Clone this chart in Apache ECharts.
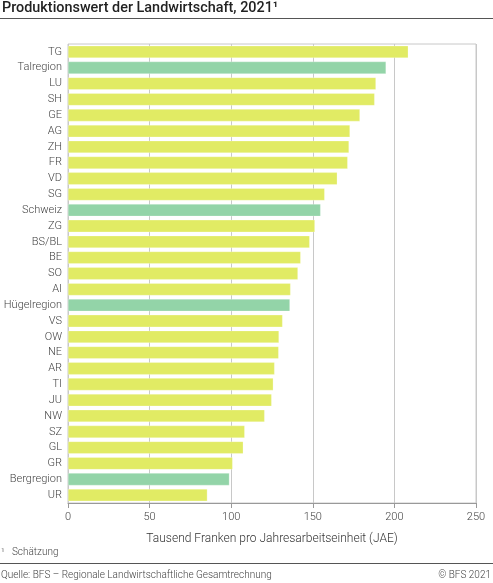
<!DOCTYPE html>
<html>
<head>
<meta charset="utf-8">
<script src="https://cdn.jsdelivr.net/npm/echarts@6/dist/echarts.min.js"></script>
<style>
  html, body { margin: 0; padding: 0; background: #fff; }
  #chart { width: 493px; height: 583px; }
</style>
</head>
<body>
<div id="chart"></div>
<script>
// regions and cantons, top to bottom
var categories = ['TG', 'Talregion', 'LU', 'SH', 'GE', 'AG', 'ZH', 'FR', 'VD', 'SG', 'Schweiz',
    'ZG', 'BS/BL', 'BE', 'SO', 'AI', 'Hügelregion', 'VS', 'OW', 'NE', 'AR', 'TI', 'JU', 'NW',
    'SZ', 'GL', 'GR', 'Bergregion', 'UR'];
var values = [208.5, 194.9, 188.7, 187.9, 178.9, 172.8, 172.2, 171.4, 165.0, 157.3, 154.8,
    151.3, 148.1, 142.6, 140.9, 136.4, 136.0, 131.5, 129.3, 129.1, 126.6, 125.8, 124.8, 120.5,
    108.3, 107.4, 100.9, 98.9, 85.4];
// which bars are aggregate regions (green)
var regions = ['Talregion', 'Schweiz', 'Hügelregion', 'Bergregion'];
var xTicks = [0, 50, 100, 150, 200, 250];

var myChart = echarts.init(document.getElementById('chart'));

var barData = values.map(function(v, i) {
    var isRegion = regions.indexOf(categories[i]) >= 0;
    return {
        value: v,
        itemStyle: { color: isRegion ? '#93d4a8' : '#e1eb64' }
    };
});

var option = {
    animation: false,
    textStyle: { fontFamily: 'Roboto' },
    grid: {
        left: 68,
        right: 17,
        top: 44,
        bottom: 80,
        show: true,
        borderColor: '#c8c8c8',
        borderWidth: 1
    },
    xAxis: {
        type: 'value',
        min: xTicks[0],
        max: xTicks[xTicks.length - 1],
        interval: 50,
        name: 'Tausend Franken pro Jahresarbeitseinheit (JAE)',
        nameLocation: 'center',
        nameGap: 30,
        nameTextStyle: { color: '#333', fontSize: 12, fontWeight: 300, fontFamily: 'Roboto' },
        axisLine: { show: true, lineStyle: { color: '#999' } },
        axisTick: { show: true, length: 5, lineStyle: { color: '#999' } },
        axisLabel: { color: '#444', fontSize: 11, fontWeight: 300, margin: 9 },
        splitLine: { show: true, lineStyle: { color: '#c8c8c8' } }
    },
    yAxis: {
        type: 'category',
        data: categories,
        inverse: true,
        axisLine: { show: false },
        axisTick: { show: false },
        axisLabel: { color: '#444', fontSize: 11, fontWeight: 300, margin: 6 }
    },
    series: [{
        type: 'bar',
        data: barData,
        barCategoryGap: '22%',
        itemStyle: { borderColor: 'rgba(255,255,255,0.5)', borderWidth: 0.5 }
    }],
    graphic: [
        {
            type: 'text', left: 2, top: 1,
            style: { text: 'Produktionswert der Landwirtschaft, 2021¹', fill: '#222',
                font: '500 14.4px Roboto' }
        },
        {
            type: 'rect', left: 0, top: 18,
            shape: { width: 493, height: 1 },
            style: { fill: '#555' }
        },
        {
            type: 'text', left: 1, top: 547,
            style: { text: '¹   Schätzung', fill: '#444', font: '300 10px Roboto' }
        },
        {
            type: 'rect', left: 0, top: 563,
            shape: { width: 493, height: 1 },
            style: { fill: '#555' }
        },
        {
            type: 'text', left: 1, top: 570,
            style: { text: 'Quelle: BFS – Regionale Landwirtschaftliche Gesamtrechnung',
                fill: '#444', font: '300 10px Roboto' }
        },
        {
            type: 'text', right: 2, top: 570,
            style: { text: '© BFS 2021', fill: '#444', font: '300 10px Roboto' }
        }
    ]
};

myChart.setOption(option);
</script>
</body>
</html>
